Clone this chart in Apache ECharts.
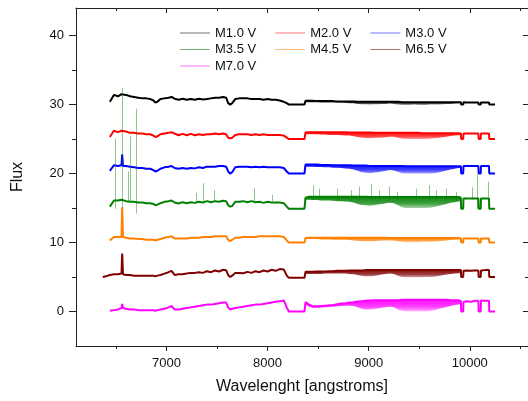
<!DOCTYPE html>
<html>
<head>
<meta charset="utf-8">
<script src="https://cdn.jsdelivr.net/npm/echarts@6/dist/echarts.min.js"></script>
<style>
  html, body { margin: 0; padding: 0; background: #fff; }
  #chart { width: 528px; height: 401px; }
</style>
</head>
<body>
<div id="chart"></div>
<script>
// wavelength grid shared by all spectra (angstroms)
const wave = [
  6370, 6400, 6440, 6480, 6520, 6555, 6562, 6570, 6600, 6640,
  6680, 6720, 6760, 6800, 6840, 6870, 6890, 6910, 6940, 6980,
  7020, 7050, 7080, 7120, 7160, 7200, 7240, 7280, 7320, 7360,
  7400, 7440, 7480, 7520, 7560, 7590, 7610, 7630, 7650, 7680,
  7720, 7760, 7800, 7840, 7880, 7920, 7960, 8000, 8040, 8080,
  8120, 8160, 8190, 8210, 8365, 8375,
  8410, 8450, 8490, 8530, 8570, 8610, 8650, 8690, 8730, 8770,
  8810, 8850, 8890, 8930, 8970, 9010, 9050, 9090, 9130, 9170,
  9210, 9250, 9290, 9330, 9370, 9410, 9450, 9490, 9530, 9570,
  9610, 9650, 9690, 9730, 9770, 9810, 9850, 9890,
  9912, 9915, 9935, 9938, 9970, 10010, 10050, 10085, 10088, 10108,
  10111, 10150, 10190, 10193, 10250
]

// upper edge of each spectrum
const fluxM10 = [
  null, null, 30.4, 31.4, 31.2, 31.5, 31.6, 31.3, 31.4, 31.2,
  31.1, 31.0, 30.9, 30.9, 30.8, 30.6, 30.3, 30.4, 30.8, 30.9,
  31.0, 31.1, 30.85, 30.7, 30.85, 30.7, 30.8, 30.7, 30.85, 30.75,
  30.8, 30.9, 31.0, 31.0, 31.1, 31.0, 30.2, 30.0, 30.2, 30.8,
  30.9, 30.9, 30.9, 30.8, 30.8, 30.8, 30.7, 30.8, 30.7, 30.7,
  30.6, 30.4, 30.2, 30.0, 30.0, 30.55,
  30.55, 30.55, 30.5, 30.5, 30.5, 30.5, 30.5, 30.45, 30.45, 30.45,
  30.45, 30.45, 30.4, 30.4, 30.4, 30.4, 30.4, 30.4, 30.4, 30.4,
  30.4, 30.4, 30.4, 30.35, 30.35, 30.35, 30.35, 30.35, 30.35, 30.35,
  30.35, 30.35, 30.35, 30.35, 30.35, 30.35, 30.35, 30.35,
  30.35, 30.0, 30.0, 30.35, 30.3, 30.3, 30.3, 30.3, 30.0, 30.0,
  30.3, 30.3, 30.3, 30.0, 30.0
]

const fluxM20 = [
  null, null, 25.3, 26.2, 26.0, 26.2, 26.1, 26.0, 26.1, 25.9,
  25.9, 25.8, 25.8, 25.7, 25.7, 25.5, 25.3, 25.4, 25.7, 25.8,
  25.9, 26.0, 25.8, 25.55, 25.75, 25.55, 25.75, 25.55, 25.7, 25.6,
  25.7, 25.7, 25.8, 25.7, 25.8, 25.7, 25.2, 25.1, 25.2, 25.6,
  25.7, 25.7, 25.7, 25.6, 25.7, 25.6, 25.7, 25.6, 25.6, 25.6,
  25.6, 25.5, 25.2, 25.0, 25.0, 25.95,
  26.0, 26.0, 26.0, 26.0, 26.0, 26.0, 26.0, 26.0, 26.0, 26.0,
  25.95, 25.95, 25.95, 25.95, 25.95, 25.95, 25.9, 25.9, 25.9, 25.9,
  25.9, 25.9, 25.9, 25.9, 25.9, 25.9, 25.9, 25.9, 25.85, 25.85,
  25.85, 25.85, 25.85, 25.85, 25.85, 25.85, 25.85, 25.85,
  25.8, 25.0, 25.0, 25.8, 25.8, 25.8, 25.8, 25.8, 25.0, 25.0,
  25.8, 25.8, 25.8, 25.0, 25.0
]

const fluxM30 = [
  null, null, 20.4, 21.2, 21.1, 21.2, 22.8, 21.1, 21.1, 21.0,
  20.9, 20.8, 20.8, 20.7, 20.7, 20.5, 20.3, 20.4, 20.7, 20.9,
  21.0, 21.1, 20.8, 20.7, 20.8, 20.7, 20.8, 20.75, 20.9, 20.8,
  21.0, 21.0, 21.0, 21.1, 21.1, 21.0, 20.3, 20.0, 20.2, 20.9,
  21.0, 21.0, 21.0, 20.9, 21.0, 20.9, 21.0, 20.9, 20.9, 20.9,
  20.9, 20.8, 20.3, 20.0, 20.0, 21.3,
  21.3, 21.3, 21.3, 21.25, 21.25, 21.25, 21.2, 21.2, 21.2, 21.2,
  21.2, 21.15, 21.15, 21.15, 21.15, 21.1, 21.1, 21.1, 21.1, 21.1,
  21.1, 21.1, 21.1, 21.1, 21.05, 21.05, 21.05, 21.05, 21.05, 21.05,
  21.05, 21.05, 21.05, 21.05, 21.05, 21.05, 21.05, 21.05,
  21.05, 20.0, 20.0, 21.1, 21.1, 21.1, 21.1, 21.1, 20.0, 20.0,
  21.1, 21.1, 21.1, 20.0, 20.0
]

const fluxM35 = [
  null, null, 15.2, 16.1, 16.1, 16.2, 16.1, 16.0, 16.0, 15.9,
  15.9, 15.8, 15.8, 15.7, 15.7, 15.6, 15.4, 15.5, 15.7, 15.9,
  16.0, 16.1, 15.8, 15.65, 15.85, 15.7, 15.85, 15.75, 15.9, 15.8,
  16.0, 15.85, 16.0, 15.9, 16.05, 16.0, 15.4, 15.2, 15.3, 15.9,
  15.9, 16.0, 15.85, 16.0, 15.85, 15.9, 15.75, 15.9, 15.8, 15.8,
  15.8, 15.7, 15.2, 14.9, 14.9, 16.5,
  16.65, 16.65, 16.65, 16.65, 16.65, 16.65, 16.65, 16.65, 16.65, 16.65,
  16.65, 16.65, 16.65, 16.65, 16.65, 16.6, 16.6, 16.6, 16.6, 16.6,
  16.6, 16.6, 16.6, 16.6, 16.6, 16.6, 16.6, 16.6, 16.6, 16.6,
  16.6, 16.6, 16.6, 16.6, 16.6, 16.6, 16.6, 16.6,
  16.5, 14.9, 14.9, 16.4, 16.4, 16.4, 16.4, 16.4, 14.9, 14.9,
  16.4, 16.4, 16.4, 14.9, 14.9
]

const fluxM45 = [
  null, null, 10.3, 10.8, 10.8, 10.8, 15.1, 10.8, 10.7, 10.6,
  10.6, 10.5, 10.5, 10.4, 10.4, 10.4, 10.3, 10.4, 10.5, 10.7,
  10.8, 10.9, 10.6, 10.6, 10.6, 10.6, 10.7, 10.7, 10.7, 10.8,
  10.8, 10.8, 10.9, 10.9, 10.9, 10.9, 10.4, 10.2, 10.4, 10.7,
  10.7, 10.8, 10.8, 10.8, 10.8, 10.9, 10.9, 10.9, 10.9, 10.9,
  10.9, 10.8, 10.3, 10.0, 10.0, 10.65,
  10.7, 10.7, 10.7, 10.7, 10.7, 10.7, 10.7, 10.7, 10.7, 10.7,
  10.7, 10.7, 10.7, 10.7, 10.7, 10.7, 10.7, 10.7, 10.7, 10.7,
  10.65, 10.65, 10.65, 10.65, 10.65, 10.65, 10.65, 10.65, 10.65, 10.65,
  10.65, 10.65, 10.65, 10.65, 10.65, 10.65, 10.65, 10.65,
  10.6, 10.0, 10.0, 10.6, 10.6, 10.6, 10.6, 10.6, 10.0, 10.0,
  10.6, 10.6, 10.6, 10.0, 10.0
]

const fluxM65 = [
  5.0, 5.1, 5.3, 5.4, 5.4, 5.5, 8.4, 5.4, 5.3, 5.3,
  5.2, 5.2, 5.2, 5.2, 5.2, 5.2, 5.1, 5.2, 5.3, 5.5,
  5.7, 5.9, 5.3, 5.4, 5.4, 5.5, 5.6, 5.6, 5.7, 5.6,
  5.85, 5.7, 5.95, 5.8, 6.05, 6.0, 5.3, 5.0, 5.2, 5.6,
  5.6, 5.55, 5.75, 5.6, 5.85, 5.7, 5.95, 5.8, 6.05, 5.9,
  6.15, 6.1, 5.2, 4.9, 4.9, 5.75,
  5.75, 5.75, 5.8, 5.8, 5.8, 5.85, 5.85, 5.9, 5.9, 5.9,
  5.95, 5.95, 5.95, 5.95, 6.0, 6.0, 6.0, 6.0, 6.0, 6.0,
  6.0, 6.0, 6.0, 6.0, 6.0, 6.0, 6.0, 6.0, 6.0, 6.0,
  6.0, 6.0, 6.0, 6.0, 6.0, 6.0, 6.0, 6.0,
  6.0, 5.0, 5.0, 5.9, 5.95, 5.9, 5.95, 5.95, 5.0, 5.0,
  5.95, 6.0, 6.0, 5.0, 5.0
]

const fluxM70 = [
  null, null, 0.1, 0.2, 0.3, 0.5, 1.1, 0.5, 0.4, 0.3,
  0.3, 0.2, 0.2, 0.2, 0.2, 0.2, 0.1, 0.2, 0.3, 0.4,
  0.6, 0.8, 0.3, 0.3, 0.4, 0.5, 0.6, 0.7, 0.8, 0.9,
  1.0, 1.0, 1.1, 1.2, 1.3, 1.3, 0.6, 0.3, 0.4, 0.5,
  0.6, 0.7, 0.8, 0.9, 1.0, 1.0, 1.1, 1.2, 1.3, 1.4,
  1.5, 1.6, 0.6, 0.0, 0.0, 1.35,
  1.0, 0.75, 0.75, 0.8, 0.85, 0.9, 0.95, 1.05, 1.15, 1.2,
  1.3, 1.35, 1.45, 1.5, 1.55, 1.6, 1.65, 1.65, 1.65, 1.65,
  1.65, 1.65, 1.65, 1.7, 1.7, 1.7, 1.7, 1.7, 1.7, 1.7,
  1.7, 1.7, 1.7, 1.7, 1.7, 1.65, 1.65, 1.65,
  1.5, 0.0, 0.0, 1.4, 1.5, 1.4, 1.55, 1.55, 0.0, 0.0,
  1.6, 1.55, 1.55, 0.0, 0.0
]

// lower edge of the noisy band (dense absorption dips), red end
const bandWave = [
  8375, 8410, 8450, 8490, 8530, 8570, 8610, 8650, 8690, 8730,
  8770, 8810, 8850, 8890, 8930, 8970, 9010, 9050, 9090, 9130,
  9170, 9210, 9250, 9290, 9330, 9370, 9410, 9450, 9490, 9530,
  9570, 9610, 9650, 9690, 9730, 9770, 9810, 9850, 9890, 9912
]
const lowM10 = [
  30.35, 30.35, 30.35, 30.35, 30.3, 30.3, 30.3, 30.3, 30.3, 30.3,
  30.25, 30.2, 30.2, 30.1, 30.05, 30.05, 30.0, 30.05, 30.05, 30.1,
  30.1, 30.15, 30.1, 30.0, 29.95, 29.95, 29.95, 30.0, 29.95, 29.95,
  29.95, 30.0, 30.0, 30.0, 30.05, 30.1, 30.1, 30.15, 30.2, 30.2
]
const lowM20 = [
  25.7, 25.7, 25.7, 25.7, 25.65, 25.65, 25.6, 25.6, 25.6, 25.55,
  25.5, 25.5, 25.4, 25.3, 25.2, 25.15, 25.1, 25.15, 25.2, 25.2,
  25.25, 25.35, 25.35, 25.2, 25.05, 25.0, 25.0, 25.0, 25.0, 25.0,
  25.0, 25.05, 25.1, 25.15, 25.25, 25.35, 25.45, 25.5, 25.55, 25.6
]
const lowM30 = [
  21.0, 21.0, 21.0, 20.95, 20.95, 20.9, 20.9, 20.85, 20.85, 20.8,
  20.75, 20.7, 20.6, 20.4, 20.2, 20.1, 20.05, 20.1, 20.2, 20.3,
  20.4, 20.5, 20.45, 20.25, 20.05, 20.0, 20.0, 20.0, 20.0, 20.0,
  20.0, 20.0, 20.05, 20.15, 20.3, 20.45, 20.6, 20.7, 20.8, 20.85
]
const lowM35 = [
  16.2, 16.2, 16.15, 16.15, 16.1, 16.1, 16.1, 16.05, 16.0, 16.0,
  15.95, 15.9, 15.8, 15.6, 15.45, 15.4, 15.35, 15.4, 15.5, 15.6,
  15.7, 15.75, 15.7, 15.4, 15.1, 15.0, 15.0, 15.0, 15.0, 15.0,
  15.0, 15.05, 15.15, 15.3, 15.45, 15.6, 15.75, 15.85, 15.95, 16.0
]
const lowM45 = [
  10.5, 10.5, 10.5, 10.5, 10.45, 10.45, 10.45, 10.4, 10.4, 10.4,
  10.4, 10.35, 10.3, 10.25, 10.2, 10.2, 10.2, 10.2, 10.25, 10.3,
  10.3, 10.3, 10.3, 10.2, 10.1, 10.05, 10.05, 10.05, 10.05, 10.1,
  10.1, 10.1, 10.15, 10.2, 10.25, 10.3, 10.35, 10.4, 10.45, 10.45
]
const lowM65 = [
  5.45, 5.45, 5.45, 5.45, 5.45, 5.5, 5.5, 5.5, 5.5, 5.5,
  5.5, 5.45, 5.4, 5.3, 5.2, 5.1, 5.1, 5.15, 5.25, 5.35,
  5.45, 5.5, 5.45, 5.2, 5.0, 4.95, 4.95, 4.95, 4.95, 4.95,
  5.0, 5.0, 5.05, 5.15, 5.25, 5.35, 5.45, 5.5, 5.55, 5.6
]
const lowM70 = [
  1.0, 0.7, 0.5, 0.5, 0.55, 0.6, 0.65, 0.7, 0.75, 0.8,
  0.85, 0.85, 0.8, 0.6, 0.4, 0.3, 0.3, 0.35, 0.45, 0.55,
  0.65, 0.7, 0.6, 0.3, 0.1, 0.05, 0.05, 0.05, 0.05, 0.05,
  0.05, 0.1, 0.2, 0.35, 0.5, 0.65, 0.8, 0.95, 1.0, 1.05
]

// thin M3.5 V spikes: [wavelength, from, to]
const spikesM35 = [
  [6497, 14.9, 25.1], [6562, 15.0, 32.4], [6620, 16.0, 20.3], [6645, 16.0, 25.4],
  [6700, 14.2, 29.4], [7296, 15.9, 17.2], [7360, 16.0, 18.6], [7477, 16.0, 17.6],
  [7865, 16.0, 17.9], [8046, 16.0, 16.9], [8447, 16.2, 18.3], [8513, 16.2, 17.8],
  [8694, 16.1, 17.8], [8826, 16.1, 17.6], [8908, 16.1, 18.1], [9023, 16.1, 18.5],
  [9105, 16.1, 17.6], [9204, 16.1, 18.1], [9286, 16.1, 17.3], [9467, 16.1, 17.8],
  [9599, 16.1, 18.3], [9665, 16.1, 17.6], [9763, 16.1, 17.8], [9862, 16.1, 17.3],
  [10026, 16.2, 18.0], [10070, 14.9, 19.9], [10184, 16.2, 18.8]
]

const names = ['M1.0 V', 'M2.0 V', 'M3.0 V', 'M3.5 V', 'M4.5 V', 'M6.5 V', 'M7.0 V']
const colors = ['#000000', '#ff0000', '#0000ff', '#008000', '#ff8000', '#800000', '#ff00ff']
const fluxes = [fluxM10, fluxM20, fluxM30, fluxM35, fluxM45, fluxM65, fluxM70]
const lows = [lowM10, lowM20, lowM30, lowM35, lowM45, lowM65, lowM70]

const xMajor = [7000, 8000, 9000, 10000]
const xMinor = [6500, 7500, 8500, 9500, 10500]
const yMajor = [0, 10, 20, 30, 40]
const yMinor = [5, 15, 25, 35]

const FONT = '"Liberation Sans", Arial, sans-serif'
const XMIN = 6105, XMAX = 10576, YMIN = -5, YMAX = 44

function pairs(flux) {
  const out = []
  wave.forEach((w, i) => {
    if (flux[i] != null) out.push([w, flux[i]])
  })
  return out
}

function rgba(hex, a) {
  const n = parseInt(hex.slice(1), 16)
  return 'rgba(' + (n >> 16) + ',' + ((n >> 8) & 255) + ',' + (n & 255) + ',' + a + ')'
}

function xAx(pos, ticks, len, inside, main) {
  return {
    type: 'value', position: pos, min: XMIN, max: XMAX,
    axisLine: { show: main, onZero: false, lineStyle: { color: '#222', width: 1 } },
    axisTick: { show: true, inside: inside, length: len, customValues: ticks, lineStyle: { color: '#222' } },
    axisLabel: { show: false },
    splitLine: { show: false }
  }
}
function yAx(pos, ticks, len, inside, main) {
  return {
    type: 'value', position: pos, min: YMIN, max: YMAX,
    axisLine: { show: main, onZero: false, lineStyle: { color: '#222', width: 1 } },
    axisTick: { show: true, inside: inside, length: len, customValues: ticks, lineStyle: { color: '#222' } },
    axisLabel: { show: false },
    splitLine: { show: false }
  }
}

const xAxes = [
  xAx('bottom', xMajor, 5, false, true),
  xAx('bottom', xMinor, 3, false, false),
  xAx('top', xMajor, 5, true, true),
  xAx('top', xMinor, 3, true, false)
]
xAxes[0].axisLabel = {
  show: true, customValues: xMajor, fontSize: 13, color: '#111', margin: 11, fontFamily: FONT,
  formatter: v => String(v)
}
xAxes[0].name = 'Wavelenght [angstroms]'
xAxes[0].nameLocation = 'middle'
xAxes[0].nameGap = 33
xAxes[0].nameTextStyle = { fontSize: 16, color: '#111', fontFamily: FONT }

const yAxes = [
  yAx('left', yMajor, 7, false, true),
  yAx('left', yMinor, 4, false, false),
  yAx('right', yMajor, 5, true, true),
  yAx('right', yMinor, 3, true, false)
]
yAxes[0].axisLabel = {
  show: true, customValues: yMajor, fontSize: 13, color: '#111', margin: 12, fontFamily: FONT,
  formatter: v => String(v)
}
yAxes[0].name = 'Flux'
yAxes[0].nameLocation = 'middle'
yAxes[0].nameGap = 50
yAxes[0].nameTextStyle = { fontSize: 16, color: '#111', fontFamily: FONT }

const series = names.map((n, i) => ({
  name: n,
  type: 'line',
  data: pairs(fluxes[i]),
  symbol: 'none',
  showSymbol: false,
  color: colors[i],
  lineStyle: { width: 2, color: colors[i] },
  z: 3
}))

// filled band between upper edge and the dip envelope, fading downwards
lows.forEach((low, k) => {
  const flux = fluxes[k]
  series.push({
    type: 'custom',
    coordinateSystem: 'cartesian2d',
    silent: true,
    z: 2,
    data: [[bandWave[0], low[0]]],
    renderItem: (params, api) => {
      const upper = bandWave.map(w => api.coord([w, flux[wave.indexOf(w)]]))
      const lower = bandWave.map((w, i) => api.coord([w, low[i]])).reverse()
      return {
        type: 'polygon',
        shape: { points: upper.concat(lower) },
        style: {
          fill: new echarts.graphic.LinearGradient(0, 0, 0, 1, [
            { offset: 0, color: rgba(colors[k], 0.95) },
            { offset: 0.6, color: rgba(colors[k], 0.75) },
            { offset: 1, color: rgba(colors[k], 0.35) }
          ])
        }
      }
    }
  })
})

series.push({
  type: 'lines',
  coordinateSystem: 'cartesian2d',
  silent: true,
  z: 4,
  lineStyle: { color: '#008000', width: 1, opacity: 0.45 },
  data: spikesM35.map(s => ({ coords: [[s[0], s[1]], [s[0], s[2]]] }))
})

function legendRow(items, top) {
  return {
    data: items, left: 175, top: top, itemWidth: 30, itemHeight: 1, itemGap: 19,
    icon: 'rect',
    selectedMode: false,
    itemStyle: { opacity: 0.55 },
    textStyle: { fontSize: 13, color: '#111', fontFamily: FONT }
  }
}

const chart = echarts.init(document.getElementById('chart'))
chart.setOption({
  animation: false,
  backgroundColor: '#fff',
  grid: { left: 76, top: 8, width: 453, height: 338 },
  legend: [
    legendRow(names.slice(0, 3), 21.5),
    legendRow(names.slice(3, 6), 38),
    legendRow(names.slice(6), 54.5)
  ],
  xAxis: xAxes,
  yAxis: yAxes,
  series: series
})
</script>
</body>
</html>
